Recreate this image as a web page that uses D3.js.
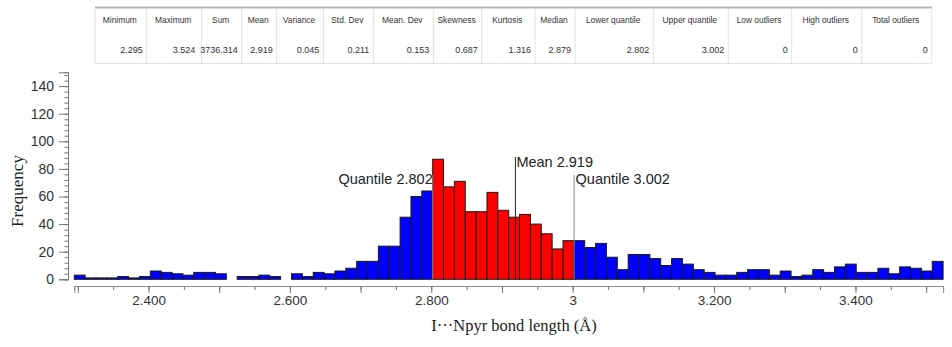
<!DOCTYPE html>
<html>
<head>
<meta charset="utf-8">
<script src="https://cdn.jsdelivr.net/npm/d3@7"></script>
<style>
  html, body { margin: 0; padding: 0; background: #fff; }
  svg { display: block; }
</style>
</head>
<body>
<svg id="chart" width="952" height="347"></svg>
<script>
// ---------------- DATA ----------------
const statHeaders = ["Minimum","Maximum","Sum","Mean","Variance","Std. Dev","Mean. Dev","Skewness","Kurtosis","Median","Lower quantile","Upper quantile","Low outliers","High outliers","Total outliers"];
const statValues  = ["2.295","3.524","3736.314","2.919","0.045","0.211","0.153","0.687","1.316","2.879","2.802","3.002","0","0","0"];

const dataMin = 2.295;
const dataMax = 3.524;
const meanValue = 2.919;
const lowerQuantile = 2.802;
const upperQuantile = 3.002;

// histogram counts, 80 equal bins from dataMin to dataMax
const binCounts = [
  3,1,1,1,2,1,2,6,5,4,3,5,5,4,0,2,2,3,2,0,4,2,5,4,6,8,
  13,13,24,24,45,60,64,
  87,67,71,49,49,63,50,45,47,40,33,22,28,
  28,23,26,16,7,18,18,
  15,10,15,11,7,5,3,3,5,7,7,3,6,2,3,7,5,9,11,5,5,8,4,9,8,6,13
];

const xMajorTicks = [2.3,2.4,2.5,2.6,2.7,2.8,2.9,3.0,3.1,3.2,3.3,3.4,3.5];
const xMinorTicks = [2.3,2.35,2.4,2.45,2.5,2.55,2.6,2.65,2.7,2.75,2.8,2.85,2.9,2.95,3.0,3.05,3.1,3.15,3.2,3.25,3.3,3.35,3.4,3.45,3.5];
const xTickLabels = {"2.4":"2.400","2.6":"2.600","2.8":"2.800","3":"3","3.2":"3.200","3.4":"3.400"};
const yMajorTicks = [0,20,40,60,80,100,120,140];
const yMinorTicks = d3.range(0, 151, 4);

const xTitle = "I\u00B7\u00B7\u00B7Npyr bond length (\u00C5)";
const yTitle = "Frequency";

// ---------------- LAYOUT ----------------
const colEdges = [95,146.7,201.7,241.7,276.7,323.3,373.3,433.3,481.7,535,575,653.3,728.3,791.7,861.7,931.7];
const plot = { left: 74.3, right: 943.1, top: 72.3, bottom: 279.3, axisY: 286, yAxisX: 68 };

const svg = d3.select("#chart");

// ---------------- TABLE ----------------
const tableFont = "Tahoma, 'DejaVu Sans Condensed', 'Liberation Sans', Arial, sans-serif";
const table = svg.append("g");
table.append("line").attr("x1", colEdges[0]).attr("x2", colEdges[colEdges.length-1])
  .attr("y1", 7.5).attr("y2", 7.5).attr("stroke", "#b4b4b4").attr("stroke-width", 2);
table.append("line").attr("x1", colEdges[0]).attr("x2", colEdges[colEdges.length-1])
  .attr("y1", 63.5).attr("y2", 63.5).attr("stroke", "#e4e4e4").attr("stroke-width", 1);
table.selectAll("line.col").data(colEdges).join("line").attr("class","col")
  .attr("x1", d => d).attr("x2", d => d).attr("y1", 8.5).attr("y2", 63)
  .attr("stroke", "#e2e2e2").attr("stroke-width", 1);
table.selectAll("text.h").data(statHeaders).join("text").attr("class","h")
  .attr("x", (d,i) => (colEdges[i] + colEdges[i+1]) / 2 - 1)
  .attr("y", 22.7)
  .attr("text-anchor", "middle")
  .attr("font-family", "'Liberation Sans', Arial, sans-serif")
  .attr("font-size", 8.4).attr("fill", "#333")
  .text(d => d);
table.selectAll("text.v").data(statValues).join("text").attr("class","v")
  .attr("x", (d,i) => colEdges[i+1] - (i === 1 ? 6.5 : 4))
  .attr("y", 52.7)
  .attr("text-anchor", "end")
  .attr("font-family", "'Liberation Sans', Arial, sans-serif")
  .attr("font-size", 9).attr("fill", "#333")
  .text(d => d);

// ---------------- SCALES ----------------
const x = d3.scaleLinear().domain([dataMin, dataMax]).range([plot.left, plot.right]);
const y = d3.scaleLinear().domain([0, 150]).range([plot.bottom, plot.top]);

const binW = (dataMax - dataMin) / binCounts.length;
const bins = binCounts.map((c, i) => {
  const x0 = dataMin + i * binW, x1 = x0 + binW, mid = (x0 + x1) / 2;
  return { x0, x1, c, inQ: mid > lowerQuantile && mid < upperQuantile };
});

// ---------------- BARS ----------------
svg.append("g").selectAll("rect").data(bins.filter(b => b.c > 0)).join("rect")
  .attr("x", d => x(d.x0))
  .attr("width", d => x(d.x1) - x(d.x0))
  .attr("y", d => y(d.c))
  .attr("height", d => y(0) - y(d.c))
  .attr("fill", d => d.inQ ? "#ff0000" : "#0000ff")
  .attr("stroke", "#1a1a1a").attr("stroke-width", 1);

// ---------------- X AXIS ----------------
const fontAxis = "'Liberation Sans', Arial, sans-serif";
const gxMinor = svg.append("g").attr("transform", `translate(0,${plot.axisY})`)
  .call(d3.axisBottom(x).tickValues(xMinorTicks).tickSize(4).tickFormat(""));
const gxMajor = svg.append("g").attr("transform", `translate(0,${plot.axisY})`)
  .call(d3.axisBottom(x).tickValues(xMajorTicks).tickSize(7).tickPadding(2)
    .tickFormat(d => xTickLabels[String(+d.toFixed(2))] || ""));
[gxMinor, gxMajor].forEach(g => {
  g.select(".domain").attr("stroke", "#8a8a8a");
  g.selectAll(".tick line").attr("stroke", "#777");
  g.selectAll("text").attr("font-family", fontAxis).attr("font-size", 13.5).attr("fill", "#333");
});

// ---------------- Y AXIS ----------------
const gyMinor = svg.append("g").attr("transform", `translate(${plot.yAxisX},0)`)
  .call(d3.axisLeft(y).tickValues(yMinorTicks).tickSize(3.5).tickFormat(""));
const gyMajor = svg.append("g").attr("transform", `translate(${plot.yAxisX},0)`)
  .call(d3.axisLeft(y).tickValues(yMajorTicks).tickSize(9).tickPadding(5).tickFormat(d3.format("d")));
[gyMinor, gyMajor].forEach(g => {
  g.select(".domain").attr("stroke", "#777");
  g.selectAll(".tick line").attr("stroke", "#777");
  g.selectAll("text").attr("font-family", fontAxis).attr("font-size", 14).attr("fill", "#333");
});

// ---------------- REFERENCE LINES ----------------
const refLines = [
  { v: lowerQuantile, label: "Quantile " + lowerQuantile.toFixed(3), top: 175, baseline: 184, anchor: "end", dx: 0, color: "#888" },
  { v: meanValue, label: "Mean " + meanValue.toFixed(3), top: 157, baseline: 166.7, anchor: "start", dx: 1, color: "#222" },
  { v: upperQuantile, label: "Quantile " + upperQuantile.toFixed(3), top: 175, baseline: 184, anchor: "start", dx: 1.5, color: "#888" }
];
const gRef = svg.append("g");
gRef.selectAll("line").data(refLines).join("line")
  .attr("x1", d => x(d.v)).attr("x2", d => x(d.v))
  .attr("y1", d => d.top).attr("y2", y(0))
  .attr("stroke", d => d.color).attr("stroke-width", 1);
gRef.selectAll("text").data(refLines).join("text")
  .attr("x", d => x(d.v) + d.dx).attr("y", d => d.baseline)
  .attr("text-anchor", d => d.anchor)
  .attr("font-family", fontAxis).attr("font-size", 14.5).attr("fill", "#222")
  .text(d => d.label);

// ---------------- TITLES ----------------
svg.append("text")
  .attr("x", 514).attr("y", 331)
  .attr("text-anchor", "middle")
  .attr("font-family", "'Liberation Serif', 'Times New Roman', serif")
  .attr("font-size", 16.5).attr("fill", "#222")
  .text(xTitle);
svg.append("text")
  .attr("transform", "translate(23,191) rotate(-90)")
  .attr("text-anchor", "middle")
  .attr("font-family", "'Liberation Serif', 'Times New Roman', serif")
  .attr("font-size", 17).attr("fill", "#222")
  .text(yTitle);
</script>
</body>
</html>
